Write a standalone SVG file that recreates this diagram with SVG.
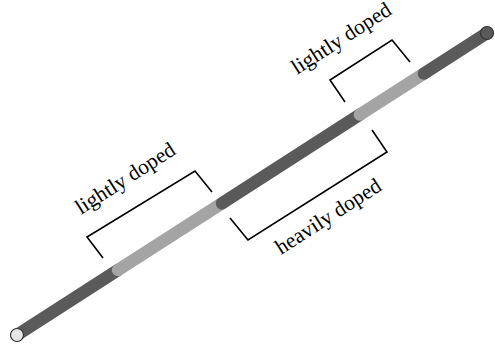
<svg xmlns="http://www.w3.org/2000/svg" width="495" height="346" viewBox="0 0 495 346">
<style>
.dark{stroke:#5a5a5a;stroke-width:12.5;stroke-linecap:round;fill:none}
.light{stroke:#a4a4a4;stroke-width:12.5;stroke-linecap:round;fill:none}
.br{stroke:#000;stroke-width:1.6;fill:none;stroke-linejoin:miter}
.lbl{font-family:"Liberation Serif","Times New Roman",serif;font-size:21.5px;fill:#000}
</style>
<rect width="495" height="346" fill="#fff"/>
<g id="wire">
<line class="dark" x1="17" y1="335" x2="118" y2="270"/>
<line class="light" x1="118" y1="270" x2="222" y2="203.3"/>
<line class="dark" x1="222" y1="203.3" x2="360" y2="114.6"/>
<line class="light" x1="360" y1="114.6" x2="424" y2="73.5"/>
<line class="dark" x1="424" y1="73.5" x2="487" y2="33"/>
<ellipse cx="487" cy="33" rx="6.5" ry="6.5" fill="#5a5a5a" stroke="#333" stroke-width="1.2"/>
<ellipse cx="17" cy="335" rx="6.5" ry="6.5" fill="#e6e6e6" stroke="#333" stroke-width="1.2"/>
</g>
<g id="connectors">
<polyline class="br" points="103,258 87,237 195,171 212,192"/>
<polyline class="br" points="230,218 248,240 387,152 372,130"/>
<polyline class="br" points="345,102 330,80 392,40 410,62"/>
</g>
<g id="label-left">
<text class="lbl" transform="translate(81,215) rotate(-32.7)">lightly doped</text>
</g>
<g id="label-middle">
<text class="lbl" transform="translate(281,255) rotate(-32.7)">heavily doped</text>
</g>
<g id="label-right">
<text class="lbl" transform="translate(297,75) rotate(-32.7)">lightly doped</text>
</g>
</svg>
